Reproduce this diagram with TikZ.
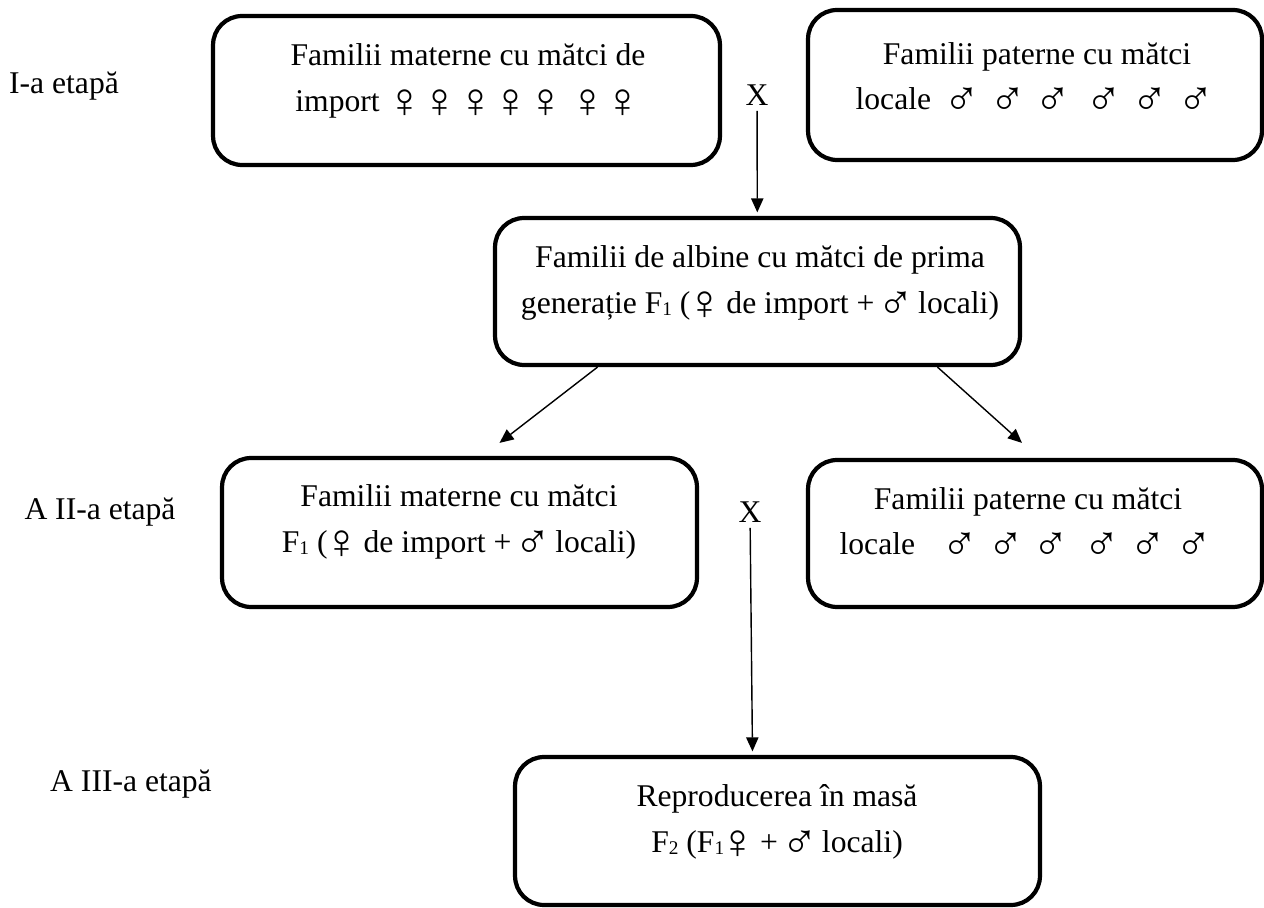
\documentclass[tikz,border=0pt]{standalone}
\usepackage{fontspec}
\setmainfont{Liberation Serif}
\newfontfamily\simbol{DejaVu Sans}
\usetikzlibrary{positioning, arrows.meta}
% semn din fontul curent, altfel din DejaVu Sans
\newcommand{\semn}[1]{\makebox[16pt]{\raisebox{-3.5pt}{\fontsize{28}{28}\selectfont
  \iffontchar\font #1 \char #1 \else{\simbol\fontsize{18}{18}\selectfont\char #1}\fi}}}
\newcommand{\fem}{\semn{"2640}}
\newcommand{\mas}{\semn{"2642}}
\newcommand{\fbx}{\makebox[20pt]{\fem}}
\newcommand{\mbx}{\makebox[26pt]{\mas}}
\newcommand{\ind}[1]{\raisebox{-1pt}{\fontsize{11}{11}\selectfont #1}}

\begin{document}
\begin{tikzpicture}[
    x=0.02cm, y=-0.02cm,
    casuta/.style={draw, line width=2.4pt, rounded corners=0.58cm, inner sep=0pt},
    scris/.style={font=\fontsize{18}{26}\selectfont, align=center, inner sep=0pt},
    eticheta/.style={font=\fontsize{18}{22}\selectfont, inner sep=3pt},
    sageata/.style={-{Triangle[length=8pt, width=7pt]}, line width=0.8pt},
  ]
    \useasboundingbox (0,0) rectangle (1264,908);

    % etapa I
    \node[casuta, minimum width=10.14cm, minimum height=2.98cm] (mat1) at (466.5,90.5) {};
    \node[scris] (mat1t) at (468,81) {Familii materne cu mătci de\\
      import \fbx\fbx\fbx\fbx\fbx\hspace{4pt}\fbx\fbx};
    \node[casuta, minimum width=9.08cm, minimum height=3.0cm] (pat1) at (1035,85) {};
    \node[scris] (pat1t) at (1037,79) {Familii paterne cu mătci\\
      locale \mbx\mbx\mbx\hspace{3pt}\mbx\mbx\mbx};

    % F1
    \node[casuta, minimum width=10.5cm, minimum height=2.94cm] (f1) at (757.5,291.5) {};
    \node[scris] (f1t) at (760,283) {Familii de albine cu mătci de prima\\
      generație F\ind{1} (\fem{} de import + \mas{} locali)};

    % etapa II
    \node[casuta, minimum width=9.5cm, minimum height=2.98cm] (mat2) at (459.5,532.5) {};
    \node[scris] (mat2t) at (459,522) {Familii materne cu mătci\\
      F\ind{1} (\fem{} de import + \mas{} locali)};
    \node[casuta, minimum width=9.08cm, minimum height=2.94cm] (pat2) at (1035,533.5) {};
    \node[scris] (pat2t) at (1028,524) {Familii paterne cu mătci\\
      locale\hspace{8pt} \mbx\mbx\mbx\hspace{3pt}\mbx\mbx\mbx};

    % etapa III
    \node[casuta, minimum width=10.5cm, minimum height=2.96cm] (f2) at (777.5,831) {};
    \node[scris] (f2t) at (777,822) {Reproducerea în masă\\
      F\ind{2} (F\ind{1}\fem{} + \mas{} locali)};

    % etape
    \node[eticheta] (et1) at (64,86) {I-a etapă};
    \node[eticheta] (et2) at (100,512) {A II-a etapă};
    \node[eticheta] (et3) at (131,784) {A III-a etapă};

    % incrucisari
    \node[eticheta] (x1) at (757,95) {X};
    \node[eticheta] (x2) at (750,512) {X};

    \draw[sageata, shorten >=2pt] (x1) -- (f1);
    \draw[sageata] ([xshift=-3.2cm]f1.south) -- ([shift={(0.8cm,0.26cm)}]mat2.north);
    \draw[sageata] ([xshift=3.6cm]f1.south) -- ([shift={(-0.26cm,0.3cm)}]pat2.north);
    \draw[sageata, shorten >=2pt] (x2) -- ([xshift=-0.5cm]f2.north);
  \end{tikzpicture}
\end{document}
